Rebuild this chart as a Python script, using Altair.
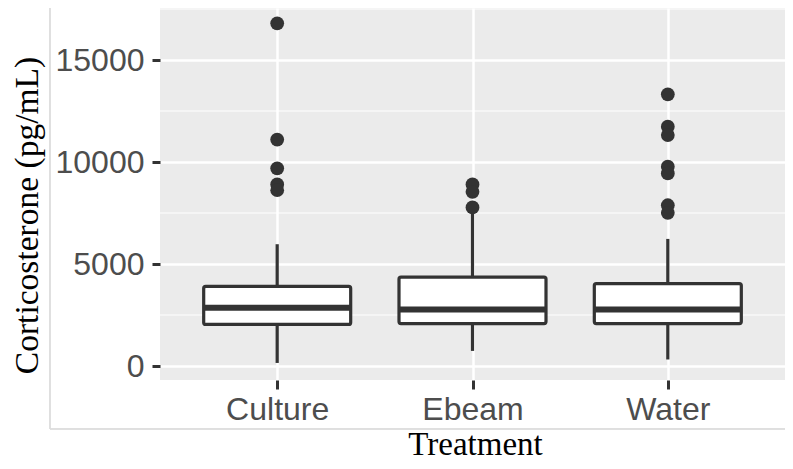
import altair as alt
import pandas as pd

categories = ["Culture", "Ebeam", "Water"]
lower = [150, 740, 320]
q1 = [2040, 2080, 2080]
median = [2860, 2770, 2770]
q3 = [3900, 4360, 4040]
upper = [5970, 7600, 6230]

out_cat = ["Culture"] * 5 + ["Ebeam"] * 3 + ["Water"] * 7
out_val = [16800, 11100, 9690, 8900, 8620,
           8900, 8540, 7770,
           13320, 11730, 11320, 9770, 9440, 7880, 7510]

y_ticks = [0, 5000, 10000, 15000]
minor_breaks = [2500, 7500, 12500, 17500]

W, H = 625, 372
DARK = "#333333"

box_df = pd.DataFrame({"Treatment": categories, "lower": lower, "q1": q1,
                       "median": median, "q3": q3, "upper": upper})
out_df = pd.DataFrame({"Treatment": out_cat, "value": out_val})
minor_df = pd.DataFrame({"v": minor_breaks})

yscale = alt.Scale(domain=[-686, 17549], nice=False, zero=False)
xscale = alt.Scale(type="point", padding=0.6, domain=categories)

x_axis = alt.Axis(title="Treatment", grid=True, gridColor="white", gridWidth=2.5,
                  domain=False, tickColor=DARK, tickWidth=3, tickSize=9,
                  labelFont="Liberation Sans", labelFontSize=32, labelColor="#4D4D4D",
                  labelPadding=5, labelAngle=0,
                  titleFont="Liberation Serif", titleFontSize=33, titleFontWeight="normal",
                  titleColor="black", titleX=315, titleY=74, titleBaseline="alphabetic",
                  titleAlign="center")
y_axis = alt.Axis(title="Corticosterone (pg/mL)", values=y_ticks, format="d", grid=True,
                  gridColor="white", gridWidth=2.5, domain=False, tickColor=DARK,
                  tickWidth=3, tickSize=8, labelFont="Liberation Sans", labelFontSize=32,
                  labelColor="#4D4D4D", labelPadding=8,
                  titleFont="Liberation Serif", titleFontSize=33.5, titleFontWeight="normal",
                  titleColor="black", titleAngle=-90, titleX=-133, titleY=207,
                  titleBaseline="middle", titleAlign="center")

minor = alt.Chart(minor_df).mark_rule(color="white", strokeWidth=1.2).encode(
    y=alt.Y("v:Q", scale=yscale, axis=y_axis),
    x=alt.value(0), x2=alt.value(W))

base = alt.Chart(box_df)
whisk_hi = base.mark_rule(color=DARK, strokeWidth=3.2).encode(
    x=alt.X("Treatment:N", scale=xscale, axis=x_axis),
    y=alt.Y("q3:Q", scale=yscale), y2="upper:Q")
whisk_lo = base.mark_rule(color=DARK, strokeWidth=3.2).encode(
    x=alt.X("Treatment:N", scale=xscale),
    y=alt.Y("lower:Q", scale=yscale), y2="q1:Q")
box = base.mark_bar(size=147, fill="white", stroke=DARK, strokeWidth=3.2,
                    cornerRadius=2).encode(
    x=alt.X("Treatment:N", scale=xscale),
    y=alt.Y("q1:Q", scale=yscale), y2="q3:Q")
med = base.mark_tick(color=DARK, size=147, thickness=6, opacity=1).encode(
    x=alt.X("Treatment:N", scale=xscale),
    y=alt.Y("median:Q", scale=yscale))
pts = alt.Chart(out_df).mark_circle(size=190, color=DARK, opacity=1).encode(
    x=alt.X("Treatment:N", scale=xscale),
    y=alt.Y("value:Q", scale=yscale))

border_v = alt.Chart(minor_df).mark_rule(color="#DDDDDD", strokeWidth=1).encode(
    x=alt.value(-110), y=alt.value(-8), y2=alt.value(421))
border_h = alt.Chart(minor_df).mark_rule(color="#DDDDDD", strokeWidth=1).encode(
    x=alt.value(-110), x2=alt.value(640), y=alt.value(421))

chart = alt.layer(minor, whisk_hi, whisk_lo, box, med, pts, border_v, border_h).properties(
    width=W, height=H,
    autosize=alt.AutoSizeParams(type="none"),
    padding={"left": 152, "top": 0, "right": 0, "bottom": 81},
).configure_view(fill="#EBEBEB", stroke=None)

chart.save("out.html", embed_options={"renderer": "svg", "actions": False})
